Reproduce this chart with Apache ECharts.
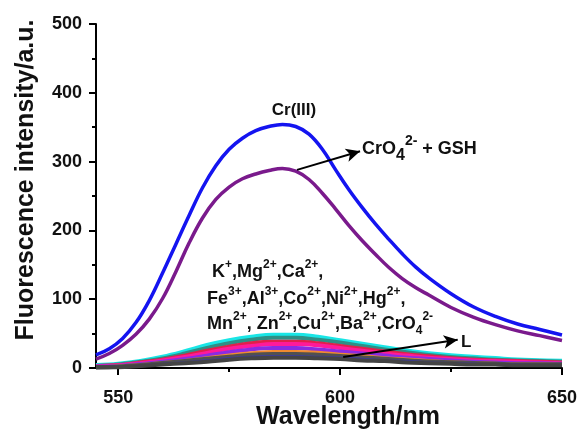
<!DOCTYPE html>
<html>
<head>
<meta charset="utf-8">
<script src="https://cdn.jsdelivr.net/npm/echarts@6/dist/echarts.min.js"></script>
<style>html,body{margin:0;padding:0;background:#fff}#c{width:580px;height:439px}</style>
</head>
<body>
<div id="c"></div>
<script>
// Wavelength grids (nm)
var wlMain = [545,548,551,554,557,560,563,566,569,572,575,578,581,584,587,590,593,596,599,602,605,608,611,614,617,620,625,630,635,640,645,650];
var wlLow  = [545,550,555,560,565,570,575,580,585,590,595,600,605,610,615,620,625,630,635,640,645,650];

// Cr(III)
var crIII = [19,28,43,66,98,138,180,222,262,294,318,334,345,351,354,351,340,318,288,259,233,209,187,166,147,131,108,89,75,64,56,48];
// CrO4 2- + GSH
var cro4GSH = [13,21,33,49,71,101,140,182,218,245,263,275,282,287,290,286,274,254,231,207,185,165,146,130,117,106,88,74,63,54,47,40];

// Other ions / L (bundle near baseline)
var sCyan   = [4,6,10,16,24,33,40,45,48,48,45,40,35,30,25,21,18,16,14,12,11,10];
var sTeal   = [3,5,9,14,21,29,36,41,44,44,41,37,32,27,23,19,16,14,12,11,10,9];
var sRed    = [3,4,8,12,18,25,31,36,38,38,36,32,28,24,20,17,14,12,11,10,9,8];
var sPink   = [3,4,7,11,16,22,28,32,35,35,33,29,25,21,18,15,13,11,10,9,8,7];
var sViolet = [2,3,6,9,13,18,23,27,29,29,27,24,21,18,15,13,11,9,8,7,7,6];
var sOrange = [2,3,5,8,11,15,19,22,24,24,23,20,18,15,13,11,9,8,7,6,6,5];
var sGray   = [1,2,4,7,10,13,16,19,20,20,19,17,15,13,11,9,8,7,6,5,5,5];
var sNavy   = [1,2,3,6,8,11,14,16,17,17,16,15,13,11,10,8,7,6,5,5,4,4];
var sDark   = [1,1,3,5,7,9,12,14,15,15,14,13,11,10,8,7,6,5,5,4,4,4];

var xMajor = [550,600,650];
var xMinor = [575,625];

function pairs(xs, ys){ return xs.map(function(x,i){ return [x, ys[i]]; }); }

var FONT = "'Liberation Sans', Arial, sans-serif";

var lowSeries = [
  {d:sCyan, c:'#19e6e6', w:4.5},
  {d:sTeal, c:'#2f8f86', w:4},
  {d:sRed, c:'#e0204a', w:4},
  {d:sPink, c:'#ff1a9a', w:4},
  {d:sViolet, c:'#8a2be2', w:4},
  {d:sOrange, c:'#f08a30', w:3},
  {d:sGray, c:'#505050', w:4.5},
  {d:sNavy, c:'#3a3aa8', w:2.5},
  {d:sDark, c:'#444444', w:4}
].map(function(s){
  return {type:'line', xAxisIndex:0, yAxisIndex:0, data:pairs(wlLow, s.d), smooth:0.4, showSymbol:false,
    lineStyle:{color:s.c, width:s.w}, itemStyle:{color:s.c}, z:2};
});

var arrowStyle = {color:'#000', width:2, type:'solid'};

var series = lowSeries.concat([
  {type:'line', name:'CrO4+GSH', data:pairs(wlMain, cro4GSH), smooth:0.4, showSymbol:false,
   lineStyle:{color:'#7a1a8c', width:3.5}, z:3,
   markLine:{silent:true, symbol:['none','arrow'], symbolSize:[10,14], label:{show:false}, lineStyle:arrowStyle,
     data:[[{coord:[590.3,288]},{coord:[604.5,315]}], [{coord:[600.7,16]},{coord:[626.5,41]}]]}},
  {type:'line', name:'Cr(III)', data:pairs(wlMain, crIII), smooth:0.4, showSymbol:false,
   lineStyle:{color:'#1414f0', width:3.5}, z:4}
]);

var C = '#111';
var rich = {
  b:{fontSize:18, fontWeight:'bold', fontFamily:FONT, color:C, lineHeight:26},
  s:{fontSize:12, fontWeight:'bold', fontFamily:FONT, color:C, verticalAlign:'top', lineHeight:12},
  u:{fontSize:12, fontWeight:'bold', fontFamily:FONT, color:C, verticalAlign:'bottom', lineHeight:12}
};
var richG = {
  b:{fontSize:18, fontWeight:'bold', fontFamily:FONT, color:C, lineHeight:30},
  s:{fontSize:14, fontWeight:'bold', fontFamily:FONT, color:C, verticalAlign:'top', lineHeight:14},
  u:{fontSize:16, fontWeight:'bold', fontFamily:FONT, color:C, verticalAlign:'bottom', lineHeight:15}
};

function rt(x, y, text, r){
  return {type:'text', x:x, y:y, style:{text:text, rich:r || rich, fill:C}, z:10};
}

var chart = echarts.init(document.getElementById('c'), null, {renderer:'canvas'});
chart.setOption({
  animation:false,
  backgroundColor:'#fff',
  grid:{left:96, right:18, top:24, bottom:71, containLabel:false},
  xAxis:[
    {type:'value', min:545, max:650,
     axisLine:{show:true, onZero:false, lineStyle:{color:'#000', width:2}},
     axisTick:{show:true, inside:false, length:7, customValues:xMajor, lineStyle:{color:'#000', width:2}},
     axisLabel:{show:true, customValues:xMajor, margin:21, fontSize:18, fontWeight:'bold', fontFamily:FONT, color:C},
     splitLine:{show:false}},
    {type:'value', min:545, max:650, position:'bottom',
     axisLine:{show:false},
     axisTick:{show:true, inside:false, length:4, customValues:xMinor, lineStyle:{color:'#000', width:2}},
     axisLabel:{show:false}, splitLine:{show:false}}
  ],
  yAxis:[
    {type:'value', min:0, max:500, interval:100,
     axisLine:{show:true, onZero:false, lineStyle:{color:'#000', width:2}},
     axisTick:{show:true, inside:false, length:7, lineStyle:{color:'#000', width:2}},
     minorTick:{show:true, splitNumber:2, length:4, lineStyle:{color:'#000', width:2}},
     axisLabel:{margin:14, fontSize:18, fontWeight:'bold', fontFamily:FONT, color:C},
     splitLine:{show:false}, minorSplitLine:{show:false}}
  ],
  series:series,
  graphic:[
    {type:'text', x:26, y:180, rotation:Math.PI/2, style:{text:'Fluorescence intensity/a.u.', font:"bold 25px "+FONT, fill:C, align:'center', verticalAlign:'middle'}, z:10},
    {type:'text', x:348, y:417, style:{text:'Wavelength/nm', font:"bold 25px "+FONT, fill:C, align:'center', verticalAlign:'middle'}, z:10},
    {type:'text', x:294, y:110, style:{text:'Cr(III)', font:"bold 17px "+FONT, fill:C, align:'center', verticalAlign:'middle'}, z:10},
    rt(362, 134, '{b|CrO}{u|4}{s|2-}{b| + GSH}', richG),
    rt(212, 259, '{b|K}{s|+}{b|,Mg}{s|2+}{b|,Ca}{s|2+}{b|,}'),
    rt(207, 286, '{b|Fe}{s|3+}{b|,Al}{s|3+}{b|,Co}{s|2+}{b|,Ni}{s|2+}{b|,Hg}{s|2+}{b|,}'),
    rt(207, 311, '{b|Mn}{s|2+}{b|, Zn}{s|2+}{b|,Cu}{s|2+}{b|,Ba}{s|2+}{b|,CrO}{u|4}{s|2-}'),
    {type:'text', x:461, y:342, style:{text:'L', font:"bold 17px "+FONT, fill:C, align:'left', verticalAlign:'middle'}, z:10}
  ]
});
</script>
</body>
</html>
